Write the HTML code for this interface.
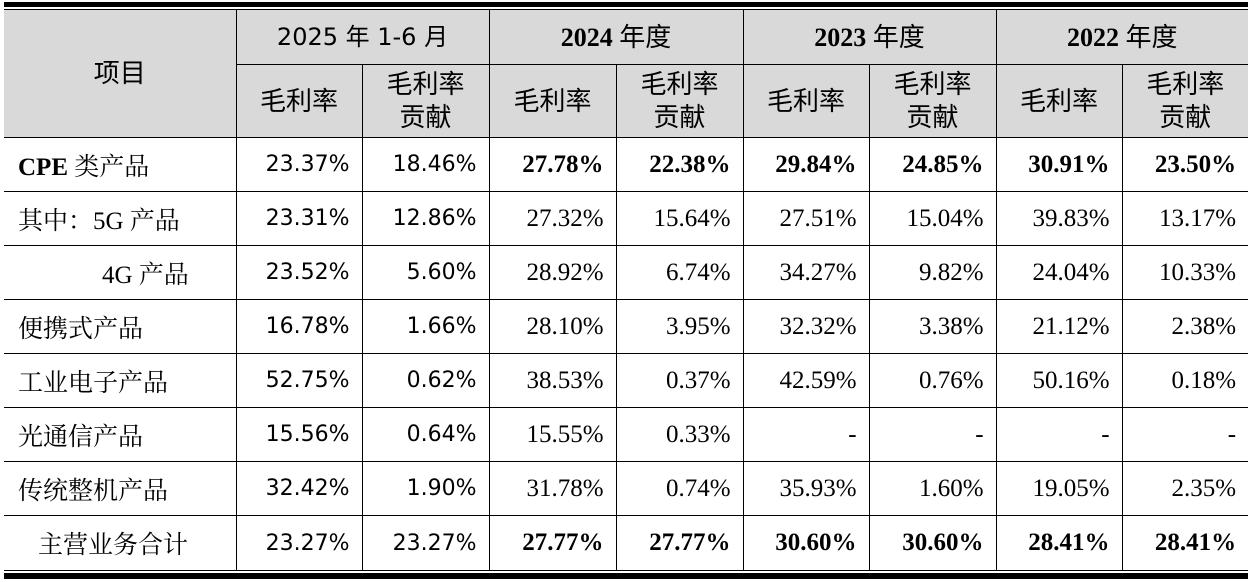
<!DOCTYPE html>
<html><head><meta charset="utf-8"><style>
body{margin:0;width:1251px;height:582px;background:#fff;position:relative;overflow:hidden}
.thick{position:absolute;left:4px;width:1244px;height:5px;background:#000}
table{position:absolute;left:4px;top:9px;border-collapse:collapse;table-layout:fixed;width:1244px;font-family:"Liberation Serif","Noto Serif CJK SC",serif;font-size:25px;color:#000}
td{border:1px solid #000;padding:0 12px;text-align:right;white-space:nowrap;overflow:hidden}
tr td:first-child{border-left:none}
tr td:last-child{border-right:none}
.h td{background:#d9d9d9;text-align:center;font-family:"Liberation Serif","Noto Sans CJK SC",sans-serif;line-height:33px;font-size:26px}
td.s,.h td.s{font-family:"DejaVu Sans","Noto Sans CJK SC",sans-serif;font-size:22px}
.h td.s{font-size:24px}
b{font-weight:bold}
td.l{text-align:left;padding-left:14px}
tr.d td{height:53px}
</style></head><body>
<div class="thick" style="top:2px"></div>
<table>
<colgroup><col style="width:232px"><col style="width:126px"><col style="width:127px"><col style="width:127px"><col style="width:127px"><col style="width:126px"><col style="width:127px"><col style="width:126px"><col style="width:126px"></colgroup>
<tr class="h" style="height:55px"><td rowspan="2">项目</td><td colspan="2" class="s">2025 年 1-6 月</td><td colspan="2"><b>2024</b> 年度</td><td colspan="2"><b>2023</b> 年度</td><td colspan="2"><b>2022</b> 年度</td></tr>
<tr class="h" style="height:73px"><td>毛利率</td><td>毛利率<br>贡献</td><td>毛利率</td><td>毛利率<br>贡献</td><td>毛利率</td><td>毛利率<br>贡献</td><td>毛利率</td><td>毛利率<br>贡献</td></tr>
<tr class="d"><td class="l"><b>CPE</b> 类产品</td><td class="s">23.37%</td><td class="s">18.46%</td><td><b>27.78%</b></td><td><b>22.38%</b></td><td><b>29.84%</b></td><td><b>24.85%</b></td><td><b>30.91%</b></td><td><b>23.50%</b></td></tr>
<tr class="d"><td class="l">其中：5G 产品</td><td class="s">23.31%</td><td class="s">12.86%</td><td>27.32%</td><td>15.64%</td><td>27.51%</td><td>15.04%</td><td>39.83%</td><td>13.17%</td></tr>
<tr class="d"><td class="l" style="padding-left:98px">4G 产品</td><td class="s">23.52%</td><td class="s">5.60%</td><td>28.92%</td><td>6.74%</td><td>34.27%</td><td>9.82%</td><td>24.04%</td><td>10.33%</td></tr>
<tr class="d"><td class="l">便携式产品</td><td class="s">16.78%</td><td class="s">1.66%</td><td>28.10%</td><td>3.95%</td><td>32.32%</td><td>3.38%</td><td>21.12%</td><td>2.38%</td></tr>
<tr class="d"><td class="l">工业电子产品</td><td class="s">52.75%</td><td class="s">0.62%</td><td>38.53%</td><td>0.37%</td><td>42.59%</td><td>0.76%</td><td>50.16%</td><td>0.18%</td></tr>
<tr class="d"><td class="l">光通信产品</td><td class="s">15.56%</td><td class="s">0.64%</td><td>15.55%</td><td>0.33%</td><td>-</td><td>-</td><td>-</td><td>-</td></tr>
<tr class="d"><td class="l">传统整机产品</td><td class="s">32.42%</td><td class="s">1.90%</td><td>31.78%</td><td>0.74%</td><td>35.93%</td><td>1.60%</td><td>19.05%</td><td>2.35%</td></tr>
<tr class="d" style="height:55px"><td class="l" style="padding-left:34px">主营业务合计</td><td class="s">23.27%</td><td class="s">23.27%</td><td><b>27.77%</b></td><td><b>27.77%</b></td><td><b>30.60%</b></td><td><b>30.60%</b></td><td><b>28.41%</b></td><td><b>28.41%</b></td></tr>
</table>
<div class="thick" style="top:573px;height:6px"></div>
</body></html>
